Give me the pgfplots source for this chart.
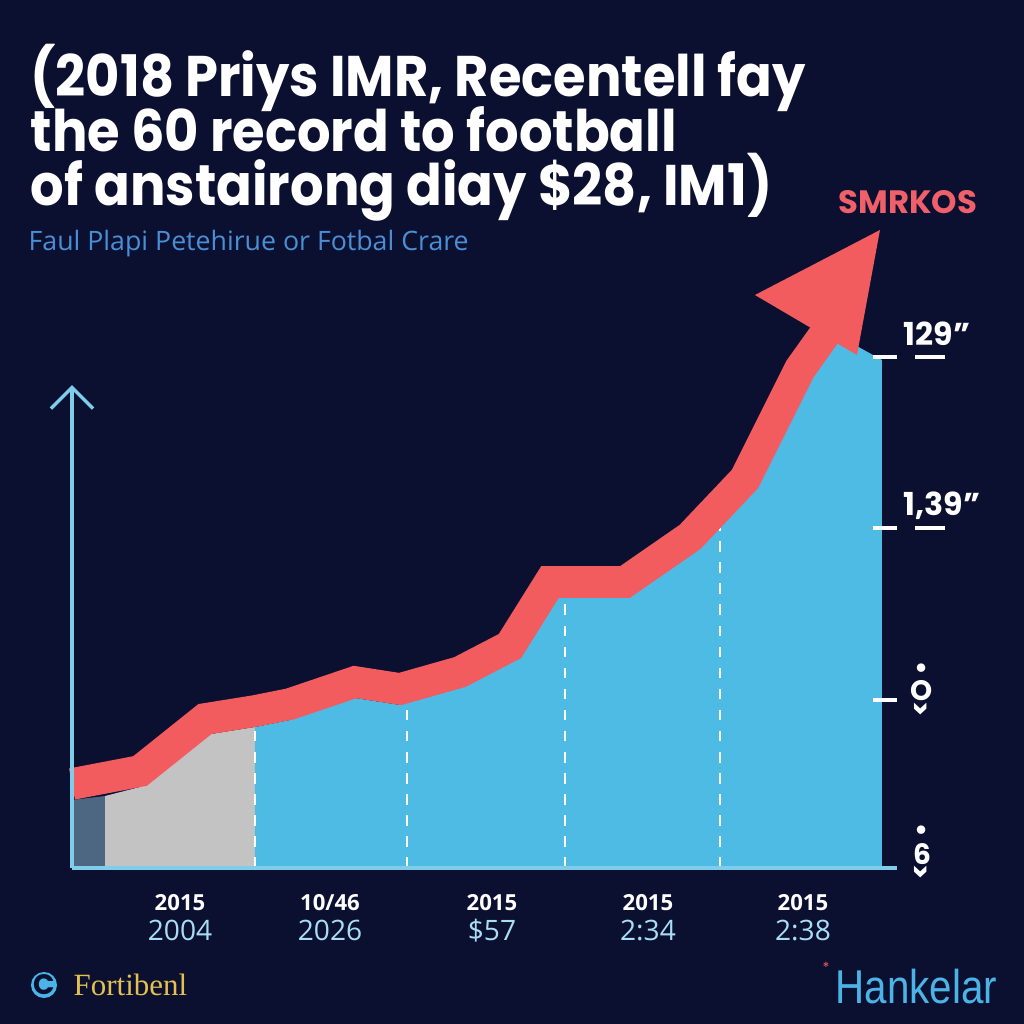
\documentclass[border=0pt]{standalone}
\usepackage{pgfplots}
\pgfplotsset{compat=1.18}
\usepackage{fontspec}
\usetikzlibrary{arrows.meta}
\setmainfont{Poppins}
\newfontfamily\titlefont[FakeStretch=0.92]{Poppins}
\newfontfamily\subfont{Open Sans}
\newfontfamily\slabfont{Liberation Serif}
\newfontfamily\condfont[FakeStretch=0.85]{Liberation Sans}
\definecolor{bg}{HTML}{0B1031}
\definecolor{areablue}{HTML}{4DBBE3}
\definecolor{redl}{HTML}{F25C5E}
\definecolor{lgray}{HTML}{C3C3C3}
\definecolor{dgray}{HTML}{4D6783}
\definecolor{axisblue}{HTML}{80CDEB}
\definecolor{subblue}{HTML}{4A8FD6}
\definecolor{lblue}{HTML}{A9DDF5}
\definecolor{yel}{HTML}{E3C04F}
\definecolor{hblue}{HTML}{4CB3E6}
\definecolor{pinkt}{HTML}{F0606A}
\begin{document}
\begin{tikzpicture}
\fill[bg] (0,0) rectangle (10.24,-10.24);
% title
\node[anchor=base west, text=white, font=\titlefont\bfseries\fontsize{16.3}{19}\selectfont, inner sep=0] at (0.30,-0.96) {(2018 Priys IMR, Recentell fay};
\node[anchor=base west, text=white, font=\titlefont\bfseries\fontsize{16.3}{19}\selectfont, inner sep=0] at (0.30,-1.51) {the 60 record to football};
\node[anchor=base west, text=white, font=\titlefont\bfseries\fontsize{16.3}{19}\selectfont, inner sep=0] at (0.30,-2.05) {of anstairong diay \$28, IM1)};
\node[anchor=base west, text=subblue, font=\subfont\fontsize{7.6}{8}\selectfont, inner sep=0] at (0.28,-2.50) {Faul Plapi Petehirue or Fotbal Crare};
\node[anchor=base west, text=pinkt, font=\bfseries\fontsize{9.2}{10}\selectfont, inner sep=0] at (8.38,-2.13) {SMRKOS};
\begin{axis}[
  at={(0.72cm,-8.68cm)}, anchor=south west,
  scale only axis, width=8.1cm, height=6.48cm,
  xmin=0, xmax=810, ymin=0, ymax=648,
  clip=false,
  axis line style={draw=none},
  ytick=\empty,
  xtick={108,258,420,576,731},
  xticklabels={
    {{\fontsize{6.3}{8}\selectfont\bfseries 2015}\\{\color{lblue}2004}},
    {{\fontsize{6.3}{8}\selectfont\bfseries 10/46}\\{\color{lblue}2026}},
    {{\fontsize{6.3}{8}\selectfont\bfseries 2015}\\{\color{lblue}\$57}},
    {{\fontsize{6.3}{8}\selectfont\bfseries 2015}\\{\color{lblue}2:34}},
    {{\fontsize{6.3}{8}\selectfont\bfseries 2015}\\{\color{lblue}2:38}}},
  major tick length=0pt,
  xticklabel style={align=center, text=white, anchor=north, yshift=-0.14cm,
    font=\subfont\fontsize{8}{8.6}\selectfont},
]
\addplot[fill=dgray, draw=none] coordinates {(0,0)(0,68)(33,72)(33,0)} --cycle;
\addplot[fill=lgray, draw=none] coordinates {(33,0)(33,72)(68,81)(133,133)(183,141)(183,0)} --cycle;
\addplot[fill=areablue, draw=none] coordinates {(183,0)(183,141)(218,148)(283,170)(328,163)(388,180)(438,206)(478,270)(553,270)(618,315)(673,373)(728,483)(768,538)(783,523)(810,508)(810,0)} --cycle;
\addplot[white, line width=0.8pt, dash pattern=on 3pt off 3pt] coordinates {(183,0)(183,141)};
\addplot[white, line width=0.8pt, dash pattern=on 3pt off 3pt] coordinates {(335,0)(335,165)};
\addplot[white, line width=0.8pt, dash pattern=on 3pt off 3pt] coordinates {(493,0)(493,270)};
\addplot[white, line width=0.8pt, dash pattern=on 3pt off 3pt] coordinates {(648,0)(648,347)};
\addplot[redl, line width=9pt, line join=miter] coordinates {(0,84)(68,97)(133,149)(183,157)(218,164)(283,186)(328,179)(388,196)(438,222)(478,286)(553,286)(618,331)(673,389)(728,499)(763,548)};
\addplot[fill=redl, draw=none] coordinates {(683,573)(808,638)(785,513)} --cycle;
% axes
\draw[axisblue, line width=1pt] (axis cs:0,0) -- (axis cs:825,0);
\draw[axisblue, line width=1pt, -{Straight Barb[length=6pt,width=12pt]}] (axis cs:0,0) -- (axis cs:0,483);
\draw[white, line width=1pt] (axis cs:801,511) -- (axis cs:825,511);
\draw[white, line width=1pt] (axis cs:801,340) -- (axis cs:825,340);
\draw[white, line width=1pt] (axis cs:801,168) -- (axis cs:825,168);
\end{axis}
% right labels
\node[anchor=base west, text=white, font=\bfseries\fontsize{9}{10}\selectfont, inner sep=0] at (9.03,-3.45) {129''};
\node[anchor=base west, text=white, font=\bfseries\fontsize{9}{10}\selectfont, inner sep=0] at (9.03,-5.15) {1,39''};
\draw[white, line width=1pt] (9.15,-3.57) -- (9.45,-3.57);
\draw[white, line width=1pt] (9.15,-5.28) -- (9.45,-5.28);
\node[text=white, font=\bfseries\fontsize{8}{4.5}\selectfont, inner sep=0, align=center] at (9.22,-6.90) {\textbullet\\O\\\rotatebox{90}{<}};
\node[text=white, font=\bfseries\fontsize{8}{4.5}\selectfont, inner sep=0, align=center] at (9.22,-8.53) {\textbullet\\6\\\rotatebox{90}{<}};
% logos
\fill[hblue] (0.44,-9.85) circle (0.13);
\node[text=bg, font=\bfseries\fontsize{8}{8}\selectfont, inner sep=0] at (0.44,-9.85) {C};
\node[anchor=base west, text=yel, font=\slabfont\fontsize{8.8}{10}\selectfont, inner sep=0] at (0.73,-9.95) {Fortibenl};
\node[anchor=base west, text=hblue, font=\condfont\fontsize{13.5}{14}\selectfont, inner sep=0] at (8.35,-10.03) {Hankelar};
\node[anchor=base west, text=redl, font=\fontsize{4}{4}\selectfont, inner sep=0] at (8.22,-9.72) {*};
\end{tikzpicture}
\end{document}
